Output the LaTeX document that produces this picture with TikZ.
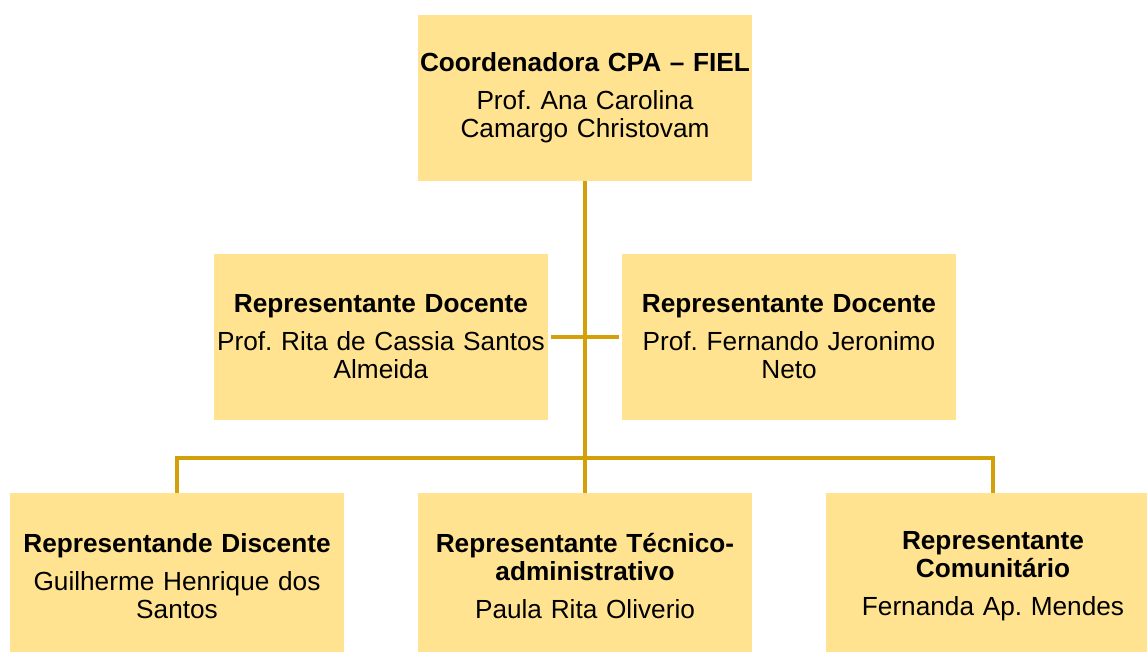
\documentclass[tikz,border=0pt]{standalone}
\usepackage{fontspec}
\setmainfont{Liberation Sans}
\frenchspacing
\definecolor{caixa}{RGB}{255,227,145}
\definecolor{ligacao}{RGB}{212,160,10}
\tikzstyle{membro}=[rectangle,fill=caixa,minimum width=334pt,minimum height=166pt,text width=332pt,inner sep=1pt,align=center,font=\fontsize{26.2}{28}\selectfont]
\tikzstyle{linha} = [draw=ligacao,line width=3.2pt]

\begin{document}
\begin{tikzpicture}[x=1pt,y=-1pt]
      \useasboundingbox (0,0) rectangle (1147,651);
      \clip (0,0) rectangle (1147,651);
      \node[membro] (coord) at (585,98) {\textbf{Coordenadora CPA – FIEL}\\[10pt]Prof. Ana Carolina\\Camargo Christovam};
      \node[membro] (doc1) at (381,337) {\textbf{Representante Docente}\\[10pt]Prof. Rita de Cassia Santos\\Almeida};
      \node[membro] (doc2) at (789,337) {\textbf{Representante Docente}\\[10pt]Prof. Fernando Jeronimo\\Neto};
      \node[membro] (disc) at (177,576) {\textbf{Representande Discente}\\[10pt]Guilherme Henrique dos\\Santos};
      \node[membro] (tec) at (585,576) {\textbf{Representante Técnico-}\\\textbf{administrativo}\\[10pt]Paula Rita Oliverio};
      \node[membro] (comu) at (993,576) {\textbf{Representante}\\\textbf{Comunitário}\\[10pt]Fernanda Ap. Mendes};
      \coordinate (barra) at (585,458);
      \draw[linha] (coord.south) -- (tec.north);
      \draw[linha] (disc.north) |- (barra) -| (comu.north);
      \draw[linha,shorten <=3pt,shorten >=3pt] (doc1.east) -- (doc2.west);
\end{tikzpicture}
\end{document}
